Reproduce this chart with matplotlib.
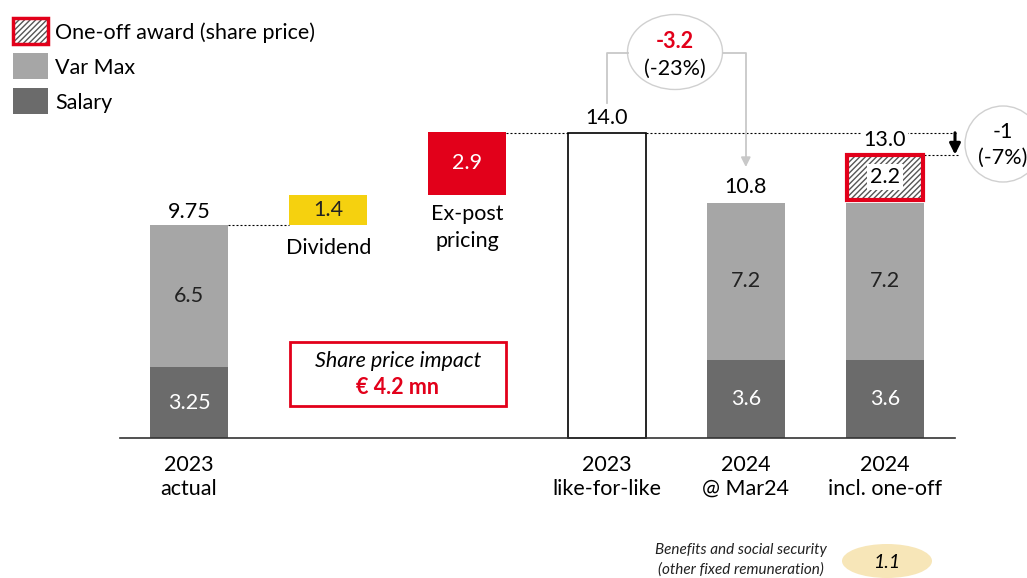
import numpy as np
import matplotlib.pyplot as plt
from matplotlib.patches import Rectangle, Ellipse

plt.rcParams['font.family'] = ['Lato', 'DejaVu Sans']
plt.rcParams['hatch.linewidth'] = 1.0

# data
categories = ['2023\nactual', '', '', '2023\nlike-for-like', '2024\n@ Mar24', '2024\nincl. one-off']
stack_pos = [0, 4, 5]
salary = [3.25, 3.6, 3.6]
var_max = [6.5, 7.2, 7.2]
totals = [9.75, 10.8, 13.0]
one_off_pos = 5
one_off = 2.2
dividend_pos = 1
dividend = 1.4
expost_pos = 2
expost = 2.9
lfl_pos = 3
lfl = 14.0
delta_lfl = -3.2
delta_lfl_pct = '(-23%)'
delta_oneoff = -1
delta_oneoff_pct = '(-7%)'
benefits = 1.1
share_impact = 4.2

c_salary = '#6b6b6b'
c_var = '#a6a6a6'
c_red = '#e2001a'
c_yellow = '#f5d10f'
c_grey_line = '#c8c8c8'
c_hatch = '#555555'

fig = plt.figure(figsize=(10.27, 5.78), dpi=100)
ax = fig.add_axes([0, 0, 1, 1])
X0, XS, Y0, YS = 189, 139.2, 438, 21.8
ax.set_xlim(-X0 / XS, (1027 - X0) / XS)
ax.set_ylim((Y0 - 578) / YS, Y0 / YS)
ax.axis('off')

def px(x):
    return (x - X0) / XS

def py(y):
    return (Y0 - y) / YS

w = 0.56
fs = 15.5

# stacked bars
ax.bar(stack_pos, salary, width=w, color=c_salary, zorder=2)
ax.bar(stack_pos, var_max, bottom=salary, width=w, color=c_var, zorder=2)
for x, s, v in zip(stack_pos, salary, var_max):
    ax.text(x, s / 2, f'{s:g}', ha='center', va='center', color='white', fontsize=fs)
    ax.text(x, s + v / 2, f'{v:g}', ha='center', va='center', color='#222222', fontsize=fs)

# one-off hatched (hatch in grey, border in red)
base = salary[-1] + var_max[-1]
gap = 0.12
ax.bar(one_off_pos, one_off - gap, bottom=base + gap, width=w - 0.02, color='white',
       edgecolor=c_hatch, linewidth=0, hatch='//////', zorder=3)
ax.bar(one_off_pos, one_off - gap, bottom=base + gap, width=w - 0.02, fill=False,
       edgecolor=c_red, linewidth=3, zorder=3)
ax.text(one_off_pos, base + gap + (one_off - gap) / 2, f'{one_off:g}', ha='center', va='center',
        fontsize=fs, zorder=4,
        bbox=dict(facecolor='white', edgecolor='none', pad=2))

# dividend and ex-post floating boxes
ax.bar(dividend_pos, dividend, bottom=totals[0], width=w, color=c_yellow, zorder=2)
ax.text(dividend_pos, totals[0] + dividend / 2, f'{dividend:g}', ha='center', va='center',
        fontsize=fs, color='#222222')
ax.text(dividend_pos, totals[0] - 1.05, 'Dividend', ha='center', va='center', fontsize=fs)
ax.bar(expost_pos, expost, bottom=totals[0] + dividend, width=w, color=c_red, zorder=2)
ax.text(expost_pos, totals[0] + dividend + expost / 2, f'{expost:g}', ha='center', va='center',
        fontsize=fs, color='white')
ax.text(expost_pos, totals[0] + dividend - 1.5, 'Ex-post\npricing', ha='center', va='center',
        fontsize=fs, linespacing=1.45)

# like-for-like
ax.bar(lfl_pos, lfl, width=w, color='white', edgecolor='black', linewidth=1.2, zorder=2)

# total labels
ax.text(0, totals[0] + 0.6, f'{totals[0]:g}', ha='center', va='center', fontsize=fs)
ax.text(lfl_pos, lfl + 0.7, f'{lfl:.1f}', ha='center', va='center', fontsize=fs)
ax.text(4, totals[1] + 0.7, f'{totals[1]:.1f}', ha='center', va='center', fontsize=fs)
ax.text(5, totals[2] + 0.68, f'{totals[2]:.1f}', ha='center', va='center', fontsize=fs, zorder=4,
        bbox=dict(facecolor='white', edgecolor='none', pad=1))

# dashed connectors
dash = (0, (1.8, 1.8))
ax.plot([w / 2, dividend_pos - w / 2], [totals[0]] * 2, ls=dash, color='black', lw=0.8)
ax.plot([expost_pos + w / 2, lfl_pos - w / 2], [lfl] * 2, ls=dash, color='black', lw=0.8)
ax.plot([lfl_pos + w / 2, px(958)], [lfl] * 2, ls=dash, color='black', lw=0.8, zorder=1)
ax.plot([5 + w / 2, px(958)], [totals[2]] * 2, ls=dash, color='black', lw=0.8)
ax.annotate('', xy=(px(955), totals[2]), xytext=(px(955), lfl),
            arrowprops=dict(arrowstyle='-|>', color='black', lw=2.2, mutation_scale=16,
                            shrinkA=0, shrinkB=0))

# baseline
ax.plot([px(120), px(955)], [0, 0], color='#333333', lw=1.2, zorder=3)

# category labels
for i, c in enumerate(categories):
    if c:
        ax.text(i, py(477), c, ha='center', va='center', fontsize=fs, linespacing=1.2)

# -3.2 bubble and connector
ax.plot([lfl_pos, lfl_pos, px(628)], [py(103), py(53), py(53)], color=c_grey_line, lw=1.3)
ax.annotate('', xy=(4, py(167)), xytext=(px(723), py(53)),
            arrowprops=dict(arrowstyle='-|>', color=c_grey_line, lw=1.3, mutation_scale=14,
                            connectionstyle='angle,angleA=0,angleB=90,rad=0',
                            shrinkA=0, shrinkB=0))
ax.add_patch(Ellipse((px(675), py(52)), 95 / XS, 75 / YS, facecolor='white',
                     edgecolor='#d0d0d0', lw=1))
ax.text(px(675), py(42), f'{delta_lfl:g}', ha='center', va='center', fontsize=fs,
        color=c_red, fontweight='bold')
ax.text(px(675), py(69), delta_lfl_pct, ha='center', va='center', fontsize=fs)

# -1 bubble
ax.add_patch(Ellipse((px(1003), py(144)), 76 / XS, 76 / YS, facecolor='white',
                     edgecolor='#d0d0d0', lw=1))
ax.text(px(1003), py(132), f'{delta_oneoff:g}', ha='center', va='center', fontsize=fs)
ax.text(px(1003), py(158), delta_oneoff_pct, ha='center', va='center', fontsize=fs)

# share price impact box
ax.add_patch(Rectangle((px(290), py(406)), 216 / XS, 64 / YS, facecolor='white',
                       edgecolor=c_red, lw=2))
ax.text(px(398), py(361), 'Share price impact', ha='center', va='center', fontsize=fs,
        style='italic')
ax.text(px(398), py(388), f'€ {share_impact:g} mn', ha='center', va='center', fontsize=fs,
        color=c_red, fontweight='bold')

# benefits note
ax.text(px(741), py(550), 'Benefits and social security', ha='center', va='center',
        fontsize=11, style='italic', color='#222222')
ax.text(px(741), py(570), '(other fixed remuneration)', ha='center', va='center',
        fontsize=11, style='italic', color='#222222')
ax.add_patch(Ellipse((px(887), py(561)), 90 / XS, 34 / YS, facecolor='#f7e6b8', edgecolor='none'))
ax.text(px(887), py(562), f'{benefits:g}', ha='center', va='center', fontsize=14, style='italic')

# legend
leg_items = [('One-off award (share price)', 'white', '//////'),
             ('Var Max', c_var, None),
             ('Salary', c_salary, None)]
for k, (lab, fc, h) in enumerate(leg_items):
    ytop = 18 + 35 * k
    xy = (px(13), py(ytop + 26))
    if h:
        ax.add_patch(Rectangle(xy, 35 / XS, 26 / YS, facecolor='white', edgecolor=c_hatch,
                               lw=0, hatch=h))
        ax.add_patch(Rectangle(xy, 35 / XS, 26 / YS, fill=False, edgecolor=c_red, lw=2.5))
    else:
        ax.add_patch(Rectangle(xy, 35 / XS, 26 / YS, facecolor=fc, edgecolor='none'))
    ax.text(px(55), py(ytop + 15), lab, ha='left', va='center', fontsize=fs)

fig.savefig('out.png', dpi=100)
